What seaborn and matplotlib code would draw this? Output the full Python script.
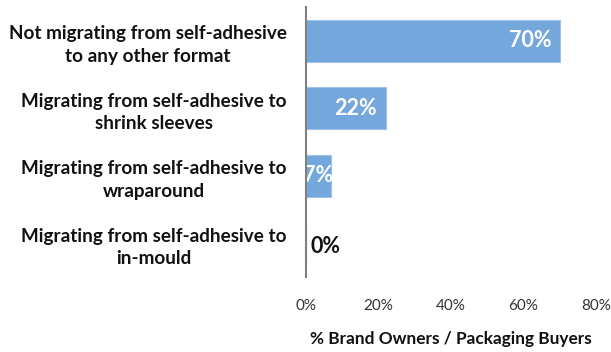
import matplotlib
matplotlib.use("Agg")
import matplotlib.pyplot as plt
import seaborn as sns
import pandas as pd

categories = [
    "Not migrating from self-adhesive\nto any other format",
    "Migrating from self-adhesive to\nshrink sleeves",
    "Migrating from self-adhesive to\nwraparound",
    "Migrating from self-adhesive to\nin-mould",
]
values = [70, 22, 7, 0]
x_ticks = [0, 20, 40, 60, 80]
x_tick_labels = ["0%", "20%", "40%", "60%", "80%"]
x_label = "% Brand Owners / Packaging Buyers"

sns.set_theme(style="white")
plt.rcParams["font.family"] = ["Lato", "DejaVu Sans"]

df = pd.DataFrame({"category": categories, "value": values})

fig = plt.figure(figsize=(6.11, 3.52), dpi=100)
ax = fig.add_axes([0.5008, 0.213, 0.4747, 0.767])

bar_color = "#74A7DC"
sns.barplot(data=df, x="value", y="category", orient="h", color=bar_color,
            saturation=1, width=0.62, edgecolor="#9DC3EC", linewidth=0.8, ax=ax)

ax.set_xlim(0, 80)
ax.set_ylim(3.5, -0.5)
ax.set_xticks(x_ticks)
ax.set_xticklabels(x_tick_labels, fontsize=11, color="#333333")
ax.tick_params(axis="x", length=0, pad=16)
ax.tick_params(axis="y", length=0, pad=14)
for lbl in ax.get_yticklabels():
    lbl.set_fontsize(13.6)
    lbl.set_fontweight("bold")
    lbl.set_color("#111111")
    lbl.set_multialignment("center")
    lbl.set_linespacing(1.4)

ax.set_xlabel(x_label, fontsize=12.4, fontweight="bold", color="#111111", labelpad=13)
ax.set_ylabel("")

for side in ["top", "right", "bottom"]:
    ax.spines[side].set_visible(False)
ax.spines["left"].set_color("#808080")
ax.spines["left"].set_linewidth(1.5)
ax.spines["left"].set_zorder(5)

for i, v in enumerate(values):
    if v >= 10:
        ax.text(v - 2.4, i, f"{v}%", ha="right", va="center", color="white",
                fontsize=15.5, fontweight="bold", clip_on=True)
    elif v > 0:
        # short bar: label sits flush with the bar end and is cut at the axis
        ax.text(v + 0.4, i, f"{v}%", ha="right", va="center", color="white",
                fontsize=15.5, fontweight="bold", clip_on=True)
    else:
        ax.text(v + 1.3, i + 0.05, f"{v}%", ha="left", va="center", color="#111111",
                fontsize=15.5, fontweight="bold")

fig.savefig("out.png", dpi=100)
